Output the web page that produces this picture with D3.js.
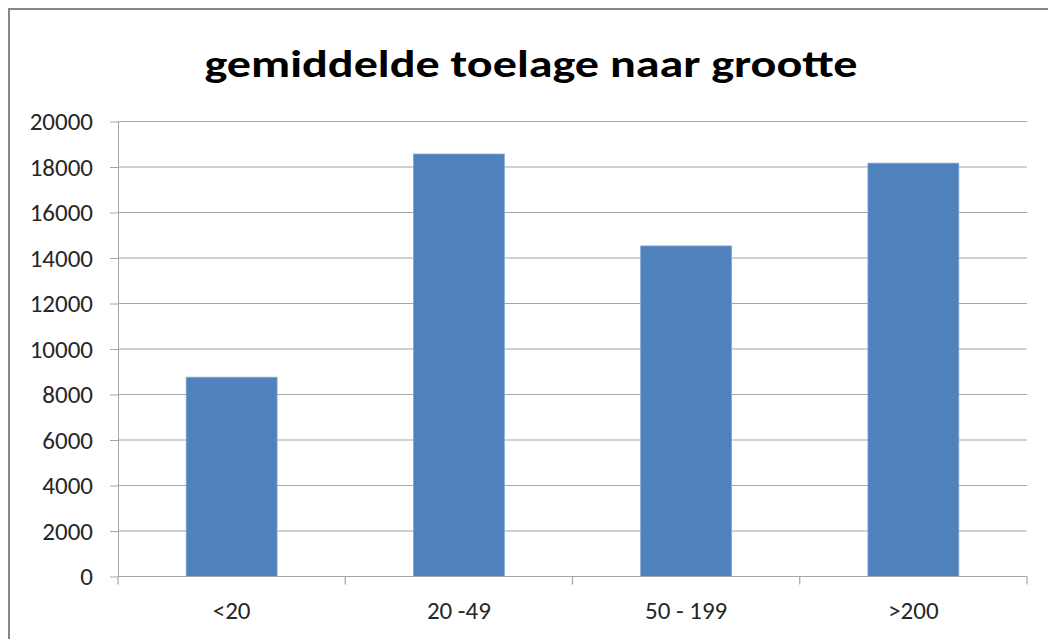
<!DOCTYPE html>
<html>
<head>
<meta charset="utf-8">
<script src="https://cdn.jsdelivr.net/npm/d3@7"></script>
<style>
  html, body { margin: 0; padding: 0; background: #fff; }
  svg { display: block; }
</style>
</head>
<body>
<svg id="chart" width="1048" height="639"></svg>
<script>
const categories = ["<20", "20 -49", "50 - 199", ">200"];
const values = [8760, 18570, 14530, 18170];
const yTicks = [0, 2000, 4000, 6000, 8000, 10000, 12000, 14000, 16000, 18000, 20000];
const title = "gemiddelde toelage naar grootte";

(function () {
const svg = d3.select("#chart");
const W = 1048, H = 639;
const pLeft = 118, pRight = 1027, pTop = 121.5, pBottom = 576.5;
const font = "Carlito, 'Open Sans', 'Liberation Sans', sans-serif";

// outer border
svg.append("rect")
  .attr("x", 9).attr("y", 9).attr("width", W + 20).attr("height", H + 20)
  .attr("fill", "#fff").attr("stroke", "#878787").attr("stroke-width", 2);

const x = d3.scaleBand().domain(categories).range([pLeft, pRight])
  .paddingInner(0.6).paddingOuter(0.3);
const y = d3.scaleLinear().domain([0, 20000]).range([pBottom, pTop]);

// y ticks
const yAxis = d3.axisLeft(y).tickValues(yTicks).tickFormat(d3.format("d"))
  .tickSize(8).tickSizeOuter(0).tickPadding(17);
const gy = svg.append("g").attr("transform", `translate(${pLeft},0)`).call(yAxis);
gy.attr("font-family", font).attr("font-size", 25);
gy.select(".domain").attr("stroke", "#a6a6a6");
gy.selectAll(".tick line").attr("stroke", "#a6a6a6");
gy.selectAll(".tick text").attr("fill", "#262626");

// gridlines
svg.append("g").selectAll("line").data(yTicks).join("line")
  .attr("x1", pLeft).attr("x2", pRight)
  .attr("y1", d => y(d)).attr("y2", d => y(d))
  .attr("stroke", "#a6a6a6").attr("stroke-width", 1.2);

// bars
svg.append("g").selectAll("rect").data(values).join("rect")
  .attr("x", (d, i) => x(categories[i]))
  .attr("width", x.bandwidth())
  .attr("y", d => y(d))
  .attr("height", d => y(0) - y(d))
  .attr("fill", "#4f81bd")
  .attr("stroke", "#84a6d3").attr("stroke-width", 0.8);

// x axis with boundary ticks
const xb = d3.scaleLinear().domain([0, categories.length]).range([pLeft, pRight]);
const gx = svg.append("g");
gx.append("line").attr("x1", pLeft).attr("x2", pRight).attr("y1", pBottom).attr("y2", pBottom)
  .attr("stroke", "#a6a6a6").attr("stroke-width", 1.2);
gx.selectAll("line.t").data(d3.range(categories.length + 1)).join("line")
  .attr("class", "t")
  .attr("x1", d => xb(d)).attr("x2", d => xb(d))
  .attr("y1", pBottom).attr("y2", pBottom + 8)
  .attr("stroke", "#a6a6a6").attr("stroke-width", 1.2);
gx.selectAll("text").data(categories).join("text")
  .attr("x", d => x(d) + x.bandwidth() / 2)
  .attr("y", 619)
  .attr("text-anchor", "middle")
  .attr("font-family", font)
  .attr("font-size", 25).attr("fill", "#262626")
  .text(d => d);

// title
svg.append("text")
  .attr("x", 531).attr("y", 77)
  .attr("text-anchor", "middle")
  .attr("font-family", font)
  .attr("font-weight", "bold").attr("font-size", 38)
  .attr("textLength", 653).attr("lengthAdjust", "spacingAndGlyphs")
  .attr("fill", "#000")
  .text(title);
})();
</script>
</body>
</html>
